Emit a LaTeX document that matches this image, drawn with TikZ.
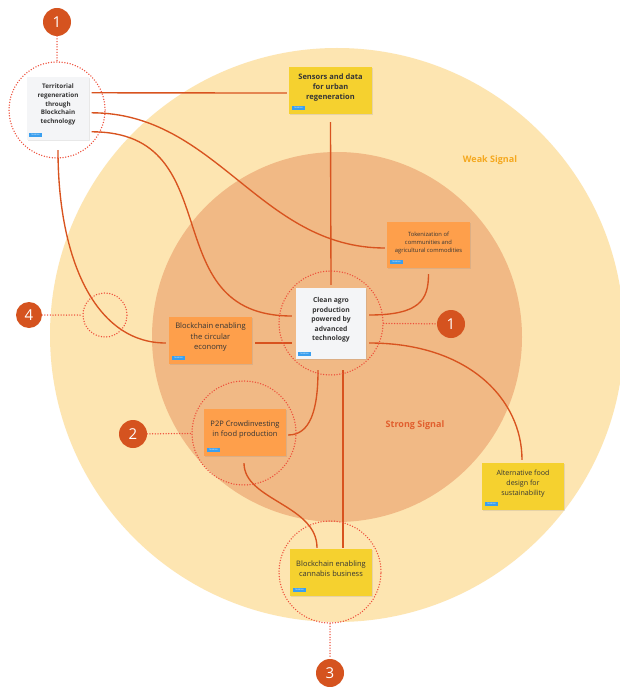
\documentclass[tikz,border=0pt]{standalone}
\usepackage{fontspec}
\setmainfont{Open Sans}
\usetikzlibrary{calc,shadows}
\definecolor{weakfill}{HTML}{FDE5B1}
\definecolor{strongfill}{HTML}{F1B985}
\definecolor{yellowbox}{HTML}{F5D12F}
\definecolor{orangebox}{HTML}{FE9F4B}
\definecolor{whitebox}{HTML}{F4F5F7}
\definecolor{linecol}{HTML}{D8531F}
\definecolor{dotcol}{HTML}{EE4E3A}
\definecolor{badgecol}{HTML}{D5531F}
\definecolor{tagcol}{HTML}{3A9FEF}
\definecolor{txtcol}{HTML}{353535}
\definecolor{weakcol}{HTML}{F5A81E}
\definecolor{strongcol}{HTML}{E15F2E}
\tikzset{
  card/.style={rectangle, inner sep=0pt, drop shadow={shadow xshift=0.8pt, shadow yshift=-0.9pt, opacity=0.18}},
  ybox/.style={card, fill=yellowbox},
  obox/.style={card, fill=orangebox},
  wbox/.style={card, fill=whitebox},
  txt/.style={align=center, text=txtcol, inner sep=0pt},
  tagbox/.style={fill=tagcol, anchor=south west, minimum width=13pt, minimum height=4pt, inner sep=0pt, text=white, font=\fontsize{2.2}{2.5}\selectfont},
  conn/.style={draw=linecol, line width=1.35pt},
  dotring/.style={circle, draw=dotcol, line width=1.5pt, dash pattern=on 0pt off 2.7pt, line cap=round, inner sep=0pt},
  dotline/.style={draw=dotcol, line width=1.5pt, dash pattern=on 0pt off 2.7pt, line cap=round},
  badge/.style={circle, fill=badgecol, text=white, minimum size=28pt, inner sep=0pt, font=\fontsize{15}{15}\selectfont}
}
\begin{document}
\begin{tikzpicture}[x=1pt,y=-1pt]
\useasboundingbox (0,0) rectangle (620,687);
\begin{scope}
\clip (0,0) rectangle (620,687);
\fill[white] (0,0) rectangle (620,687);
\fill[weakfill] (337,335) circle[radius=287pt];
\fill[strongfill] (337,337) circle[radius=185pt];
\end{scope}

\node[font=\bfseries\fontsize{9}{10}\selectfont, text=weakcol] (weak) at (490,160) {Weak Signal};
\node[font=\bfseries\fontsize{9}{10}\selectfont, text=strongcol] (strong) at (415,425) {Strong Signal};

% boxes
\node[wbox, minimum width=62pt, minimum height=63pt] (terr) at (58,108.5) {};
\node[ybox, minimum width=83pt, minimum height=47pt] (sens) at (330.5,90.5) {};
\node[obox, minimum width=83pt, minimum height=46pt] (tok) at (428.5,245) {};
\node[wbox, minimum width=70pt, minimum height=71pt] (clean) at (331,323.5) {};
\node[obox, minimum width=83pt, minimum height=47pt] (circ) at (210.5,340.5) {};
\node[obox, minimum width=82pt, minimum height=47pt] (p2p) at (245,432.5) {};
\node[ybox, minimum width=82pt, minimum height=47pt] (alt) at (523,486.5) {};
\node[ybox, minimum width=82pt, minimum height=47pt] (cann) at (331,572.5) {};

% texts
\node[txt, font=\bfseries\fontsize{6.3}{8.8}\selectfont] (terr-t) at ([yshift=4pt]terr.center) {Territorial\\regeneration\\through\\Blockchain\\technology};
\node[txt, font=\bfseries\fontsize{7.5}{10.2}\selectfont] (sens-t) at ([yshift=3pt]sens.center) {Sensors and data\\for urban\\regeneration};
\node[txt, font=\fontsize{5.8}{8.4}\selectfont] (tok-t) at ([yshift=2pt]tok.center) {Tokenization of\\communities and\\agricultural commodities};
\node[txt, font=\bfseries\fontsize{6.8}{9.6}\selectfont] (clean-t) at ([yshift=3.5pt]clean.center) {Clean agro\\production\\powered by\\advanced\\technology};
\node[txt, font=\fontsize{7.6}{10.5}\selectfont] (circ-t) at ([yshift=3pt]circ.center) {Blockchain enabling\\the circular\\economy};
\node[txt, font=\fontsize{7.5}{10.2}\selectfont] (p2p-t) at ([yshift=3pt]p2p.center) {P2P Crowdinvesting\\in food production};
\node[txt, font=\fontsize{7.1}{10.2}\selectfont] (alt-t) at ([yshift=3pt]alt.center) {Alternative food\\design for\\sustainability};
\node[txt, font=\fontsize{7.5}{10.2}\selectfont] (cann-t) at ([yshift=4pt]cann.center) {Blockchain enabling\\cannabis business};

% tags
\node[tagbox] (terr-g) at ([xshift=2pt,yshift=3pt]terr.south west) {Solution};
\node[tagbox] (sens-g) at ([xshift=3pt,yshift=4pt]sens.south west) {Solution};
\node[tagbox] (tok-g) at ([xshift=3pt,yshift=4pt]tok.south west) {Solution};
\node[tagbox] (clean-g) at ([xshift=2pt,yshift=3pt]clean.south west) {Solution};
\node[tagbox] (circ-g) at ([xshift=3pt,yshift=4pt]circ.south west) {Solution};
\node[tagbox] (p2p-g) at ([xshift=3pt,yshift=4pt]p2p.south west) {Solution};
\node[tagbox] (alt-g) at ([xshift=3pt,yshift=4pt]alt.south west) {Solution};
\node[tagbox] (cann-g) at ([xshift=3pt,yshift=4pt]cann.south west) {Solution};

% connectors
\draw[conn] ($(terr.north east)+(2.5,16)$) -- ($(sens.west)+(-2,2.5)$);
\draw[conn] ($(terr.north east)+(2.5,36)$) .. controls +(125,0) and +(-125,0) .. ($(tok.west)+(-2,3)$);
\draw[conn] ($(terr.north east)+(2.5,55)$) .. controls +(140,0) and +(-140,0) .. ($(clean.west)+(-4,-7.5)$);
\draw[conn] ($(terr.south)+(0,10)$) .. controls +(0,110) and +(-70,0) .. ($(circ.west)+(-3,2.5)$);
\draw[conn] ($(sens.south)+(0,8)$) -- ($(clean.north)+(0,-3)$);
\draw[conn] ($(clean.east)+(3,-8.5)$) .. controls +(50,0) and +(0,26) .. ($(tok.south)+(0,6)$);
\draw[conn] ($(circ.east)+(3,2.5)$) -- ($(clean.west)+(-4,19.5)$);
\draw[conn] ($(clean.east)+(3,19.5)$) .. controls +(100,0) and +(0,-60) .. ($(alt.north)+(-1,-3)$);
\draw[conn] ($(clean.south)+(-13,11)$) .. controls +(0,40) and +(22,0) .. ($(p2p.east)+(2,2.5)$);
\draw[conn] ($(clean.south)+(12,11)$) -- ($(cann.north)+(12,-1)$);
\draw[conn] ($(p2p.south)+(-1,7)$) .. controls +(0,37) and +(0,-43) .. ($(cann.north)+(-14,-1)$);

% dotted rings
\node[dotring, minimum size=96pt] (r-terr) at (57,110) {};
\node[dotring, minimum size=104pt] (r-clean) at (331,323) {};
\node[dotring, minimum size=104pt] (r-p2p) at (244,433) {};
\node[dotring, minimum size=102pt] (r-cann) at (330,572) {};
\node[dotring, minimum size=44pt] (r-four) at (105,315) {};

% badges
\node[badge] (b1a) at (57,22) {1};
\node[badge] (b1b) at (451,324) {1};
\node[badge] (b2) at (133,434) {2};
\node[badge] (b3) at (330,673) {3};
\node[badge, minimum size=26pt] (b4) at (29,315) {4};

\draw[dotline] (b1a) -- (r-terr);
\draw[dotline] (r-clean) -- (b1b);
\draw[dotline] (b2) -- (r-p2p);
\draw[dotline] (r-cann) -- (b3);
\draw[dotline] (b4) -- (r-four);
\end{tikzpicture}
\end{document}
